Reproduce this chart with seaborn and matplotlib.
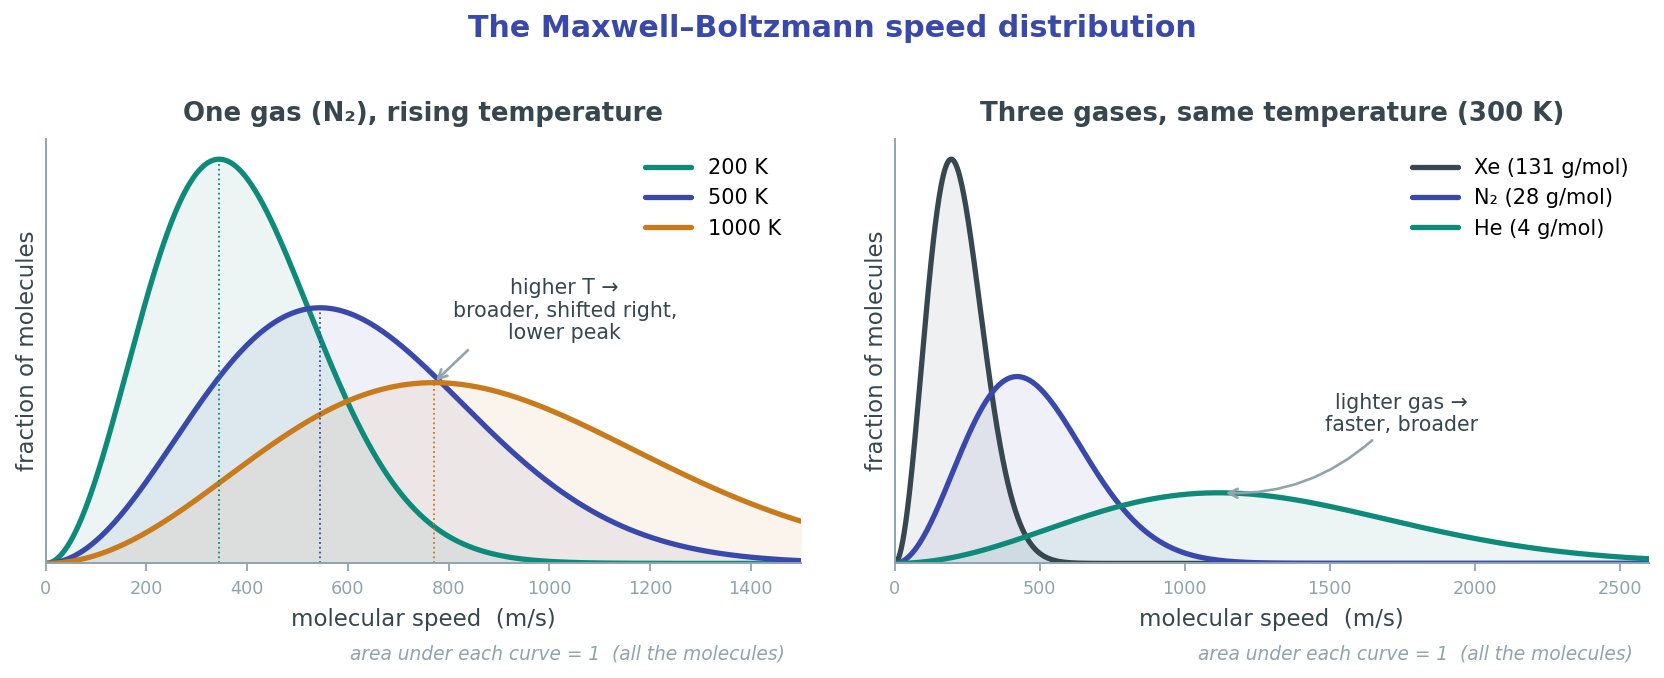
import numpy as np
import pandas as pd
import matplotlib
matplotlib.use("Agg")
import matplotlib.pyplot as plt
import seaborn as sns

# ---- data (physical parameters) ----
temps_K = [200, 500, 1000]                 # left panel, N2
temp_labels = ["200 K", "500 K", "1000 K"]
n2_molar_mass = 28.0                       # g/mol
gas_names = ["Xe (131 g/mol)", "N\u2082 (28 g/mol)", "He (4 g/mol)"]
gas_molar_masses = [131.0, 28.0, 4.0]      # g/mol, right panel
right_temp = 300                           # K
left_xmax = 1500
right_xmax = 2600
left_ticks = [0, 200, 400, 600, 800, 1000, 1200, 1400]
right_ticks = [0, 500, 1000, 1500, 2000, 2500]

R = 8.314

def mb_pdf(v, T, M_gmol):
    M = M_gmol / 1000.0
    a = M / (2 * R * T)
    return 4 * np.pi * (a / np.pi) ** 1.5 * v ** 2 * np.exp(-a * v ** 2)

def vp(T, M_gmol):
    return np.sqrt(2 * R * T / (M_gmol / 1000.0))

TEAL = "#0e8a7a"
BLUE = "#3949ab"
ORANGE = "#c97a1a"
SLATE = "#37474f"
GRAY = "#90a4ae"

left_colors = [TEAL, BLUE, ORANGE]
right_colors = [SLATE, BLUE, TEAL]

sns.set_style("white")
plt.rcParams["font.family"] = ["DejaVu Sans"]

LW = 3.8

fig = plt.figure(figsize=(16.64, 6.78), dpi=100)
axL = fig.add_axes([0.0274, 0.169, 0.4541, 0.626])
axR = fig.add_axes([0.5376, 0.169, 0.4534, 0.626])

# left panel
vL = np.linspace(0, left_xmax, 800)
dfL = pd.concat([pd.DataFrame({"v": vL, "f": mb_pdf(vL, T, n2_molar_mass), "s": lab})
                 for T, lab in zip(temps_K, temp_labels)])
sns.lineplot(data=dfL, x="v", y="f", hue="s", hue_order=temp_labels,
             palette=left_colors, lw=LW, ax=axL)
for T, c in zip(temps_K, left_colors):
    f = mb_pdf(vL, T, n2_molar_mass)
    axL.fill_between(vL, 0, f, color=c, alpha=0.08, lw=0)
    p = vp(T, n2_molar_mass)
    axL.plot([p, p], [0, mb_pdf(p, T, n2_molar_mass)], color=c, lw=1.3, ls=":")
peakL = mb_pdf(vp(temps_K[0], n2_molar_mass), temps_K[0], n2_molar_mass)
axL.set_xlim(0, left_xmax)
axL.set_ylim(0, peakL * 1.05)
axL.set_xticks(left_ticks)
p3 = vp(temps_K[2], n2_molar_mass)
axL.text(0.687, 0.595, "higher T \u2192\nbroader, shifted right,\nlower peak",
         transform=axL.transAxes, ha="center", va="center", fontsize=14.8,
         color=SLATE, linespacing=1.15)
axL.annotate("", xy=(p3, mb_pdf(p3, temps_K[2], n2_molar_mass)), xycoords="data",
             xytext=(0.559, 0.5025), textcoords="axes fraction",
             arrowprops=dict(arrowstyle="->", color=GRAY, lw=1.9,
                             shrinkA=0, shrinkB=2, mutation_scale=16))

# right panel
vR = np.linspace(0, right_xmax, 1200)
dfR = pd.concat([pd.DataFrame({"v": vR, "f": mb_pdf(vR, right_temp, M), "s": name})
                 for M, name in zip(gas_molar_masses, gas_names)])
sns.lineplot(data=dfR, x="v", y="f", hue="s", hue_order=gas_names,
             palette=right_colors, lw=LW, ax=axR)
for M, c in zip(gas_molar_masses, right_colors):
    axR.fill_between(vR, 0, mb_pdf(vR, right_temp, M), color=c, alpha=0.08, lw=0)
peakR = mb_pdf(vp(right_temp, gas_molar_masses[0]), right_temp, gas_molar_masses[0])
axR.set_xlim(0, right_xmax)
axR.set_ylim(0, peakR * 1.05)
axR.set_xticks(right_ticks)
pHe = vp(right_temp, gas_molar_masses[2])
axR.text(0.672, 0.3525, "lighter gas \u2192\nfaster, broader",
         transform=axR.transAxes, ha="center", va="center", fontsize=14.8,
         color=SLATE, linespacing=1.15)
axR.annotate("", xy=(pHe + 15, mb_pdf(pHe, right_temp, gas_molar_masses[2])),
             xycoords="data", xytext=(0.633, 0.29), textcoords="axes fraction",
             arrowprops=dict(arrowstyle="->", color=GRAY, lw=1.9,
                             shrinkA=0, shrinkB=2, mutation_scale=16,
                             connectionstyle="arc3,rad=-0.2"))

titles = ["One gas (N\u2082), rising temperature", "Three gases, same temperature (300 K)"]
for ax, t in zip([axL, axR], titles):
    ax.set_title(t, fontsize=18.7, fontweight="bold", color=SLATE, pad=13)
    ax.set_xlabel("molecular speed  (m/s)", fontsize=16.5, color=SLATE, labelpad=7)
    ax.set_ylabel("fraction of molecules", fontsize=16.5, color=SLATE, labelpad=5)
    ax.set_yticks([])
    for s in ["top", "right"]:
        ax.spines[s].set_visible(False)
    for s in ["left", "bottom"]:
        ax.spines[s].set_color(GRAY)
        ax.spines[s].set_linewidth(1.4)
    ax.tick_params(axis="x", colors=GRAY, labelsize=12.7, length=5.5, width=1.3,
                   direction="out", bottom=True, pad=6.5)
    leg = ax.legend(loc="upper right", bbox_to_anchor=(0.99, 0.985), frameon=False,
                    fontsize=15, handlelength=2.2, borderaxespad=0.2,
                    labelspacing=0.5, labelcolor="black")
    for line in leg.get_lines():
        line.set_linewidth(LW)
    ax.text(0.979, -0.2125, "area under each curve = 1  (all the molecules)",
            transform=ax.transAxes, ha="right", va="center", fontsize=13.4,
            style="italic", color=GRAY)

fig.suptitle("The Maxwell\u2013Boltzmann speed distribution", fontsize=21.7,
             fontweight="bold", color=BLUE, y=0.958, va="center")

fig.savefig("out.png", dpi=100, facecolor="white")
